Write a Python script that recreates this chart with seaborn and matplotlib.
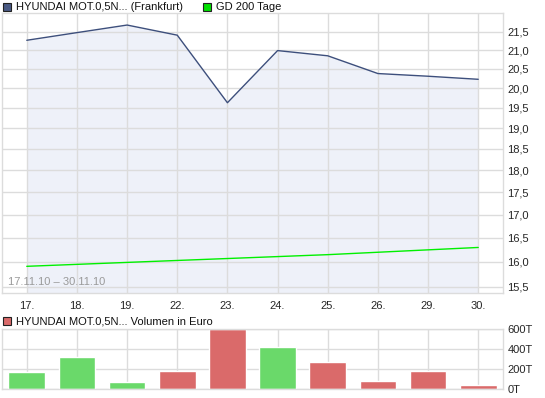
import matplotlib
matplotlib.use("Agg")
import matplotlib.pyplot as plt
from matplotlib.ticker import FixedLocator, NullLocator
from matplotlib.patches import Rectangle
import seaborn as sns
import pandas as pd

# ---------------- Data ----------------
days = ["17.", "18.", "19.", "22.", "23.", "24.", "25.", "26.", "29.", "30."]
price = [21.27, 21.48, 21.69, 21.41, 19.63, 20.99, 20.85, 20.38, 20.31, 20.23]
gd200 = [15.91, 15.95, 15.99, 16.03, 16.07, 16.11, 16.15, 16.20, 16.25, 16.30]
volume = [173, 325, 71, 183, 598, 427, 275, 81, 183, 41]  # in thousand EUR
vol_up = [True, True, True, False, False, True, False, False, False, False]
price_ticks = [15.5, 16.0, 16.5, 17.0, 17.5, 18.0, 18.5, 19.0, 19.5, 20.0, 20.5, 21.0, 21.5]
vol_ticks = [0, 200, 400, 600]

GRID = "#dcdcdc"
BLUE = "#3d4f7c"
FILL = "#eef1f9"
GREEN_LINE = "#00f000"
BAR_GREEN = "#6ad96a"
BAR_RED = "#da6a6a"

sns.set_style("white")
plt.rcParams["font.family"] = ["Liberation Sans", "DejaVu Sans"]
plt.rcParams["font.size"] = 8

df = pd.DataFrame({"pos": range(len(days)), "day": days, "price": price,
                   "gd200": gd200, "volume": volume})

fig = plt.figure(figsize=(5.45, 3.98), dpi=100)
ax = fig.add_axes([0.0031, 0.2646, 0.9204, 0.7020])
axv = fig.add_axes([0.0031, 0.0219, 0.9204, 0.1508])

# ---------------- Price panel ----------------
# fill sits under the grid, lines on top
ax.fill_between(df["pos"], price, 15.0, color=FILL, zorder=0.2, lw=0)
sns.lineplot(data=df, x="pos", y="price", ax=ax, color=BLUE, lw=1, zorder=3)
sns.lineplot(data=df, x="pos", y="gd200", ax=ax, color=GREEN_LINE, lw=1, zorder=3)
ax.set_yscale("log")
ax.set_ylim(15.38, 22.02)
ax.set_xlim(-0.5, 9.5)
ax.yaxis.set_major_locator(FixedLocator(price_ticks))
ax.yaxis.set_minor_locator(NullLocator())
ax.set_yticklabels([f"{t:.1f}".replace(".", ",") for t in price_ticks])
ax.set_xticks(df["pos"])
ax.set_xticklabels(days)
ax.yaxis.tick_right()
ax.tick_params(axis="y", length=0, pad=3, labelsize=8)
ax.tick_params(axis="x", length=3, color=GRID, pad=3, labelsize=8)
ax.grid(True, color=GRID, lw=1)
ax.set_axisbelow(True)
ax.set_xlabel("")
ax.set_ylabel("")
for s in ax.spines.values():
    s.set_color(GRID)
    s.set_linewidth(1)
ax.text(0.012, 0.022, "17.11.10 \u2013 30.11.10", transform=ax.transAxes,
        color="#9a9a9a", fontsize=8, ha="left", va="bottom", zorder=4)

# ---------------- Volume panel ----------------
bar_pal = {d: (BAR_GREEN if up else BAR_RED) for d, up in zip(days, vol_up)}
sns.barplot(data=df, x="day", y="volume", hue="day", palette=bar_pal,
            order=days, hue_order=days, legend=False, width=0.73,
            saturation=1, ax=axv, zorder=2)
axv.set_xlim(-0.5, 9.5)
axv.set_ylim(0, 600)
axv.set_yticks(vol_ticks)
axv.set_yticklabels([f"{t}T" for t in vol_ticks])
axv.yaxis.tick_right()
axv.tick_params(axis="y", length=0, pad=3, labelsize=8)
axv.tick_params(axis="x", length=0, labelbottom=False)
axv.grid(True, color=GRID, lw=1, zorder=0)
axv.set_axisbelow(True)
axv.set_xlabel("")
axv.set_ylabel("")
for s in axv.spines.values():
    s.set_color(GRID)
    s.set_linewidth(1)

# ---------------- Legends ----------------
def legend_item(x_px, y_px, color, label):
    fig.patches.append(Rectangle((x_px / 545, 1 - (y_px + 4) / 398), 8 / 545, 8 / 398,
                                 transform=fig.transFigure, facecolor=color,
                                 edgecolor="#222222", lw=0.8))
    fig.text((x_px + 13) / 545, 1 - y_px / 398, label, fontsize=8,
             ha="left", va="center", color="#111111")

legend_item(3, 7, "#4a5a84", "HYUNDAI MOT.0,5N... (Frankfurt)")
legend_item(203, 7, "#00e000", "GD 200 Tage")
legend_item(3, 321, BAR_RED, "HYUNDAI MOT.0,5N... Volumen in Euro")

fig.savefig("out.png", dpi=100)
